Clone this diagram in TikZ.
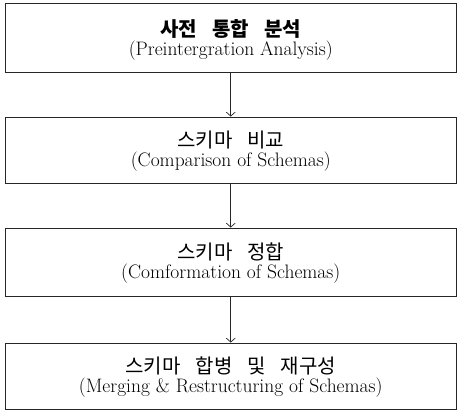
\documentclass[tikz,border=0pt]{standalone}
\usepackage{fontspec}
\newfontfamily\kr{Noto Sans CJK KR}
\usetikzlibrary{arrows.meta}
\newcommand{\krsp}{\hspace{0.75em}}
\begin{document}
\begin{tikzpicture}[x=1pt,y=-1pt,
  stagebox/.style={draw=black!85, line width=0.9pt, minimum width=450.5pt, inner sep=0pt, align=center, font=\fontsize{19.5}{19.5}\selectfont},
  flow/.style={draw=black!85, line width=0.7pt, -{Straight Barb[length=4pt,width=9pt]}}]
\useasboundingbox (0,0) rectangle (457,413);
\node[stagebox, minimum height=68.5pt] (b1) at (230.75,37.75) {};
\node[stagebox, minimum height=66pt] (b2) at (230.75,150) {};
\node[stagebox, minimum height=68pt] (b3) at (230.75,262) {};
\node[stagebox, minimum height=66pt] (b4) at (230.75,376) {};
\node[stagebox, draw=none, minimum height=0pt] (t1) at ([yshift=-2pt]b1.center) {{\kr\fontsize{20}{19.5}\selectfont\bfseries 사전\krsp 통합\krsp 분석}\\(Preintergration Analysis)};
\node[stagebox, draw=none, minimum height=0pt] (t2) at ([yshift=-1pt]b2.center) {{\kr\fontsize{20}{19.5}\selectfont 스키마\krsp 비교}\\(Comparison of Schemas)};
\node[stagebox, draw=none, minimum height=0pt] (t3) at ([yshift=-1pt]b3.center) {{\kr\fontsize{20}{19.5}\selectfont 스키마\krsp 정합}\\(Comformation of Schemas)};
\node[stagebox, draw=none, minimum height=0pt] (t4) at ([yshift=-1pt]b4.center) {{\kr\fontsize{20}{19.5}\selectfont 스키마\krsp 합병\krsp 및\krsp 재구성}\\(Merging \& Restructuring of Schemas)};
\draw[flow] (b1.south) -- (b2.north);
\draw[flow] (b2.south) -- (b3.north);
\draw[flow] (b3.south) -- (b4.north);
\end{tikzpicture}
\end{document}
